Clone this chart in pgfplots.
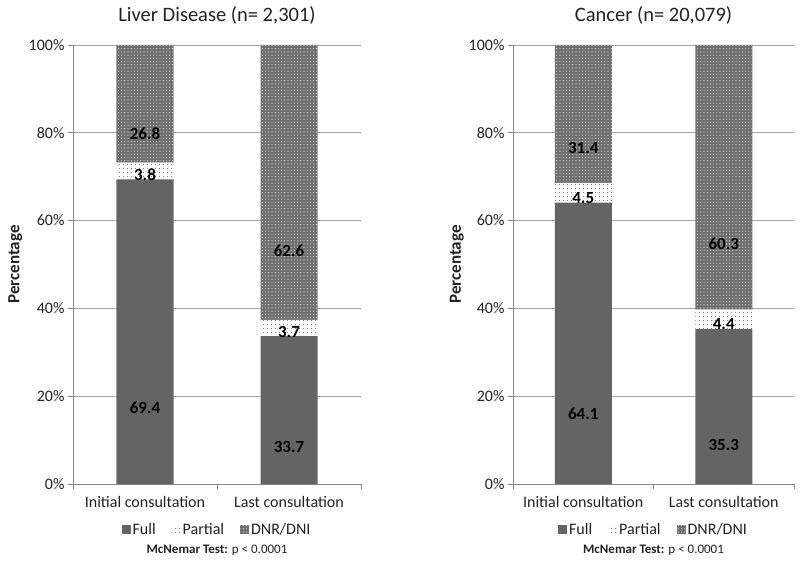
\documentclass[border=0pt]{standalone}
\usepackage{pgfplots}
\pgfplotsset{compat=1.18}
\usepackage{fontspec}
\setmainfont{Carlito}
\usetikzlibrary{patterns.meta}
\definecolor{fullc}{HTML}{646464}
\definecolor{dnrc}{HTML}{6E6E6E}
\definecolor{gridc}{HTML}{A0A0A0}
\definecolor{axisc}{HTML}{888888}
\definecolor{txt}{HTML}{222222}

\pgfplotsset{
  panel/.style={
    scale only axis, height=439pt,
    ybar stacked, bar width=57pt,
    ymin=0, ymax=100, ytick={0,20,...,100},
    xmin=-0.5, xmax=1.5, xtick={0,1},
    xticklabels={Initial consultation, Last consultation},
    axis x line*=bottom, axis y line*=left,
    axis line style={draw=axisc, line width=0.8pt},
    ymajorgrids, grid style={draw=gridc, line width=0.8pt},
    yticklabel={\pgfmathprintnumber{\tick}\%},
    /pgf/number format/assume math mode=true,
    tick label style={font=\fontsize{16}{18}\selectfont, text=txt},
    xticklabel style={yshift=-4pt},
    ytick style={draw=axisc, line width=0.8pt},
    tick align=outside, major tick length=5pt,
    xtick style={draw=none},
    extra x ticks={-0.5,0.5,1.5}, extra x tick labels={},
    extra x tick style={xtick style={draw=axisc, line width=0.8pt}},
    ylabel={Percentage},
    every axis y label/.style={at={(rel axis cs:-0.2,0.5)}, rotate=90, anchor=center, font=\fontsize{17}{19}\selectfont\bfseries, text=txt},
    every axis title/.style={at={(0.5,1)}, anchor=center, yshift=30pt, font=\fontsize{20.5}{23}\selectfont, text=txt},
    legend style={draw=none, legend columns=3, at={(0.5,-0.08)}, anchor=north,
      font=\fontsize{16}{18}\selectfont, text=txt,
      /tikz/every even column/.append style={column sep=14pt}},
    legend image code/.code={\path[#1] (0pt,-4.5pt) rectangle (9pt,4.5pt);},
    clip=false,
    nodes near coords={\pgfmathprintnumber[fixed,fixed zerofill,precision=1]{\pgfplotspointmeta}},
    every node near coord/.append style={font=\fontsize{17}{19}\selectfont\bfseries, text=black, anchor=center,
      shift={(axis direction cs:0,-\pgfplotspointmeta/4)}},
  },
  fullstyle/.style={fill=fullc, draw=none},
  partstyle/.style={fill=white, draw=none, postaction={pattern color=black!85, pattern={Dots[distance=4pt, radius=0.55pt]}}},
  dnrstyle/.style={fill=dnrc, draw=none, postaction={pattern color=white!85!dnrc, pattern={Dots[distance=3.2pt, radius=0.6pt]}}},
}

\begin{document}
\begin{tikzpicture}
\useasboundingbox (0,0) rectangle (800pt,-564pt);

\begin{axis}[panel, width=288pt, at={(73pt,-484pt)}, anchor=south west,
  title={Liver Disease (n= 2,301)}]
\addplot[fullstyle] coordinates {(0,69.4) (1,33.7)};
\addplot[partstyle] coordinates {(0,3.8) (1,3.7)};
\addplot[dnrstyle] coordinates {(0,26.8) (1,62.6)};
\legend{Full, Partial, DNR/DNI}
\node[font=\fontsize{13}{15}\selectfont, text=txt] at (rel axis cs:0.5,-0.15) {\textbf{McNemar Test:} p < 0.0001};
\end{axis}

\begin{axis}[panel, width=281pt, at={(513pt,-484pt)}, anchor=south west,
  title={Cancer (n= 20,079)}]
\addplot[fullstyle] coordinates {(0,64.1) (1,35.3)};
\addplot[partstyle] coordinates {(0,4.5) (1,4.4)};
\addplot[dnrstyle] coordinates {(0,31.4) (1,60.3)};
\legend{Full, Partial, DNR/DNI}
\node[font=\fontsize{13}{15}\selectfont, text=txt] at (rel axis cs:0.5,-0.15) {\textbf{McNemar Test:} p < 0.0001};
\end{axis}
\end{tikzpicture}
\end{document}
